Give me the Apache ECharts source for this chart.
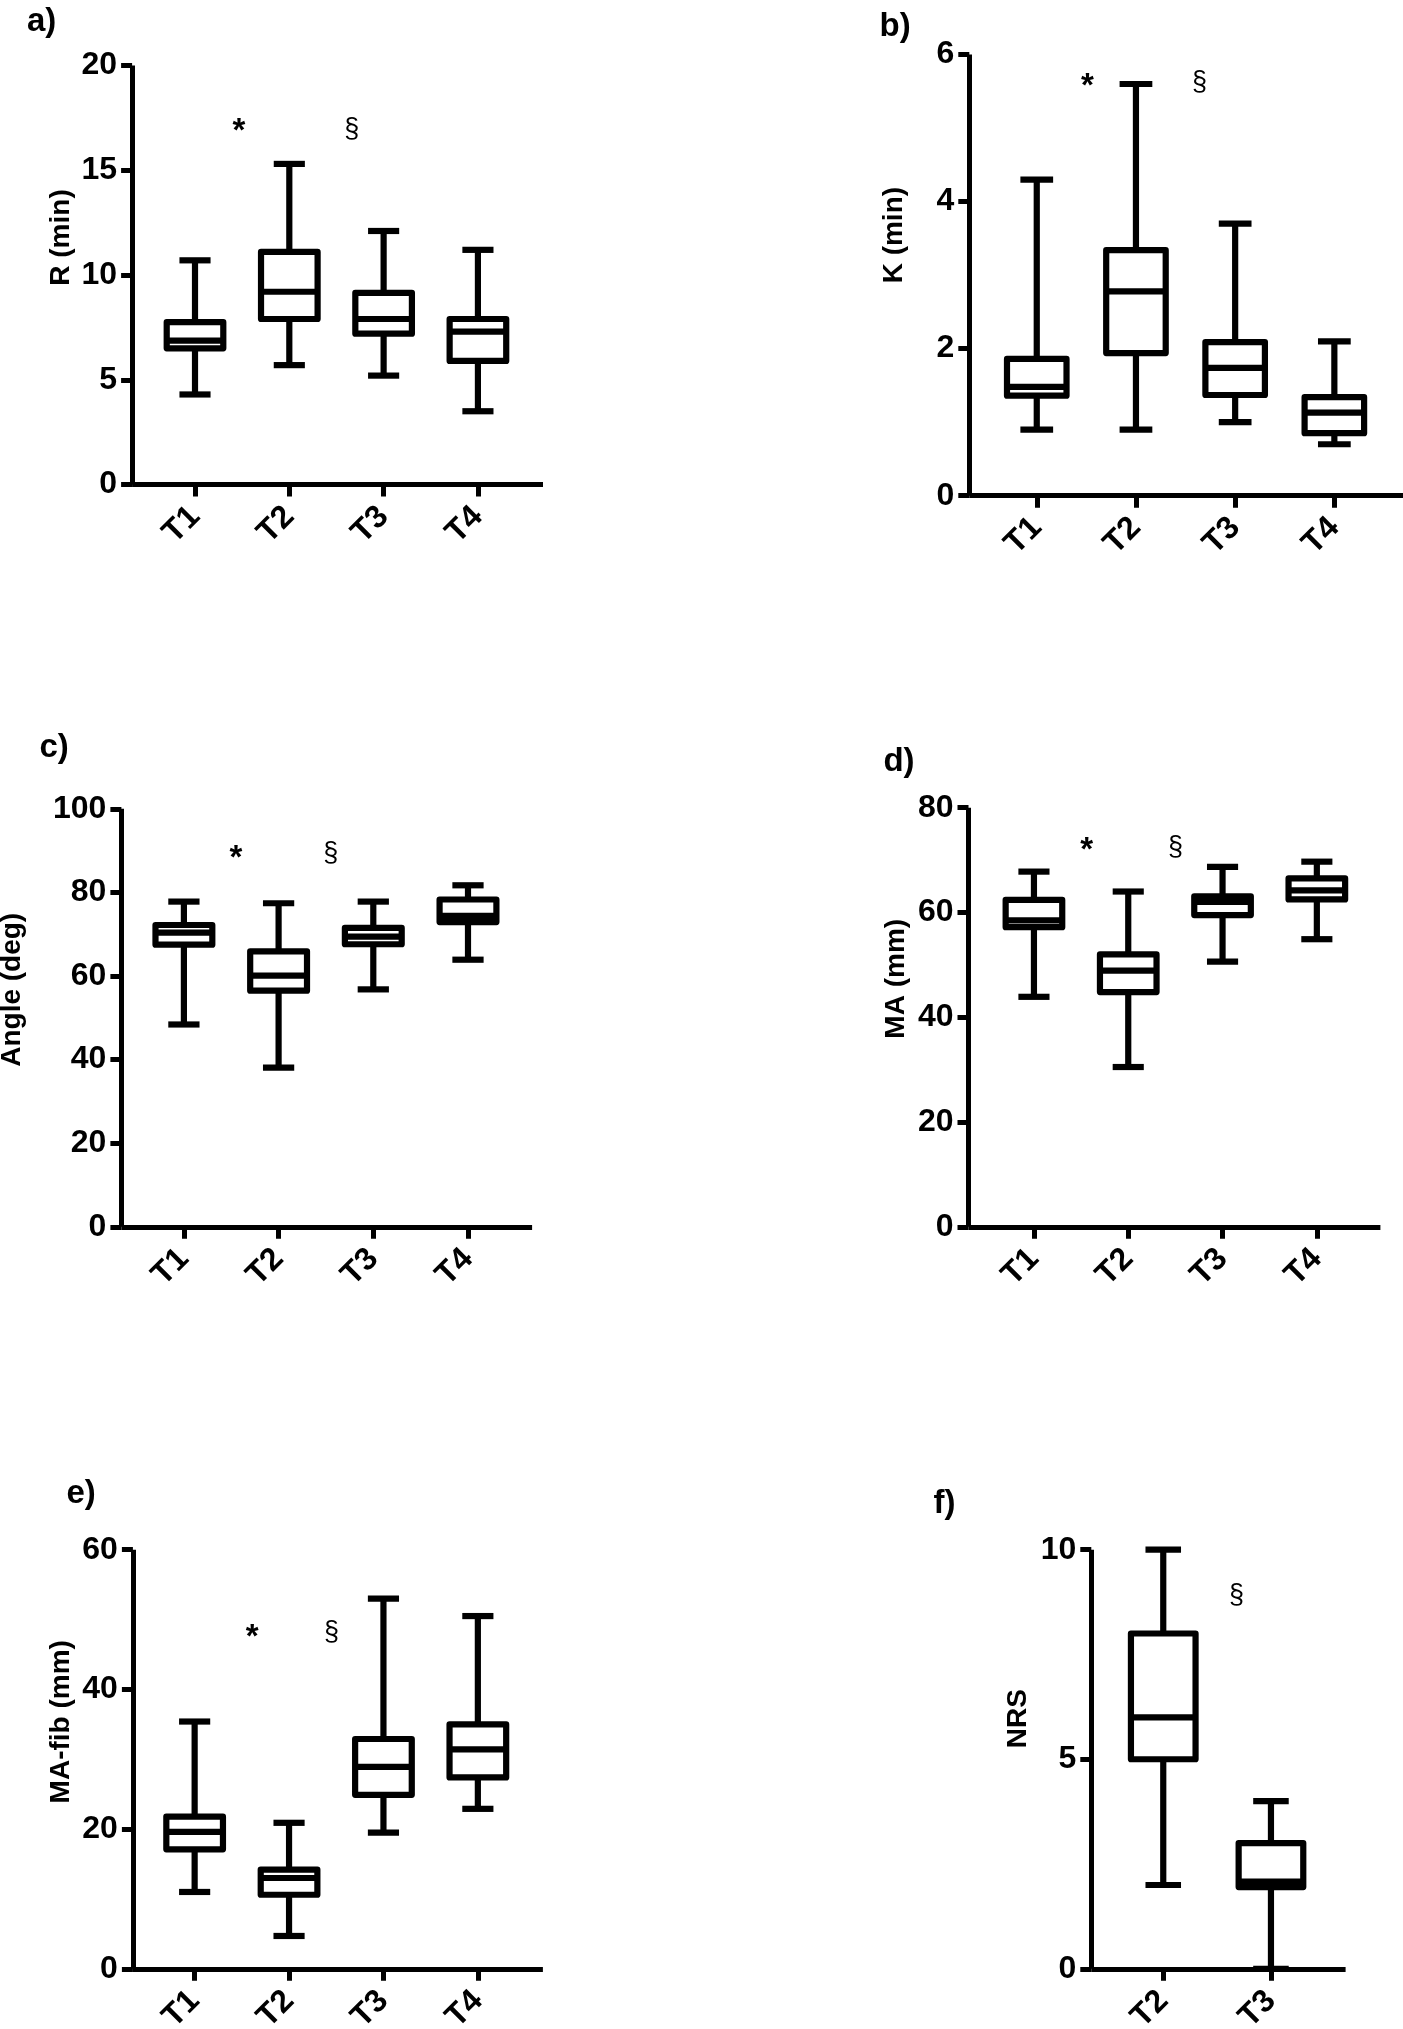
<!DOCTYPE html>
<html>
<head>
<meta charset="utf-8">
<script src="https://cdn.jsdelivr.net/npm/echarts@6/dist/echarts.min.js"></script>
<style>
html,body{margin:0;padding:0;background:#fff;}
#chart{width:1403px;height:2029px;}
</style>
</head>
<body>
<div id="chart"></div>
<script>
// ---------------- data ----------------
const timepoints = ['T1', 'T2', 'T3', 'T4'];
const nrsTimepoints = ['T2', 'T3'];

// box statistics per time point: [min, Q1, median, Q3, max]
const rMin = [[4.3, 6.5, 6.87, 7.75, 10.7], [5.7, 7.9, 9.2, 11.1, 15.3], [5.2, 7.2, 7.9, 9.15, 12.1], [3.5, 5.9, 7.3, 7.9, 11.2]];
const kMin = [[0.9, 1.36, 1.48, 1.86, 4.3], [0.9, 1.94, 2.78, 3.34, 5.6], [1.0, 1.37, 1.74, 2.09, 3.7], [0.7, 0.85, 1.13, 1.34, 2.1]];
const angleDeg = [[48.4, 67.5, 70.4, 72.2, 77.8], [38.1, 56.5, 60.1, 65.9, 77.4], [56.8, 67.6, 69.4, 71.5, 77.8], [63.9, 72.9, 74.4, 78.3, 81.7]];
const maMm = [[43.9, 57.2, 58.5, 62.4, 67.8], [30.5, 44.8, 48.9, 52.0, 64.0], [50.6, 59.5, 62.0, 63.1, 68.7], [54.9, 62.5, 64.2, 66.5, 69.7]];
const maFibMm = [[11.0, 17.1, 19.6, 21.8, 35.4], [4.7, 10.6, 13.0, 14.2, 20.9], [19.5, 24.9, 28.9, 32.9, 53.0], [22.9, 27.4, 31.4, 35.0, 50.5]];
const nrsScore = [[2, 5, 6, 8, 10], [0, 1.95, 2.08, 3, 4]];

// y axis ranges (tick labels)
const yMaxes = [20, 6, 100, 80, 60, 10];
const ySteps = [5, 2, 20, 20, 20, 5];

// significance marks: [symbol, x (time-point position), y (value)]
const sigR = [['*', 1.467, 17.16], ['§', 2.663, 16.95]];
const sigK = [['*', 1.51, 5.65], ['§', 2.64, 5.62]];
const sigAngle = [['*', 1.55, 89.8], ['§', 2.55, 89.2]];
const sigMA = [['*', 1.56, 73.1], ['§', 2.50, 72.4]];
const sigMAfib = [['*', 1.61, 48.4], ['§', 2.45, 48.1]];
const sigNRS = [['§', 1.68, 8.9]];

const panelLetters = ['a)', 'b)', 'c)', 'd)', 'e)', 'f)'];
const yNames = ['R (min)', 'K (min)', 'Angle (deg)', 'MA (mm)', 'MA-fib (mm)', 'NRS'];

// ---------------- layout / style ----------------
const FONT = '"Liberation Sans", Arial, Helvetica, sans-serif';
const LW = 6.2;      // box line width
const AXW = 5;       // axis line width
const BOX_HALF = 0.3;
const CAP_HALF = 0.165;
const STAR_DY = 7;

const frames = [
  { grid: { left: 132.1, top: 65.4, width: 410.9, height: 419.2 }, xMin: 0.333, xMax: 4.69, letter: [27, 5], nameGap: 57, namePad: 75 },
  { grid: { left: 969.3, top: 54.6, width: 433.7, height: 441.1 }, xMin: 0.32, xMax: 4.692, letter: [879.5, 10], nameGap: 61, namePad: 80 },
  { grid: { left: 121.4, top: 808.8, width: 410.7, height: 418 }, xMin: 0.34, xMax: 4.677, letter: [39.5, 731], nameGap: 95.5, namePad: 56 },
  { grid: { left: 968.5, top: 807.7, width: 411.9, height: 419.1 }, xMin: 0.306, xMax: 4.674, letter: [883.4, 745.6], nameGap: 58.3, namePad: 77 },
  { grid: { left: 132.9, top: 1549.7, width: 410, height: 419.1 }, xMin: 0.346, xMax: 4.689, letter: [66.4, 1477.4], nameGap: 57.7, namePad: 75 },
  { grid: { left: 1091.3, top: 1549.7, width: 254.3, height: 419.1 }, xMin: 0.332, xMax: 2.693, letter: [933.5, 1487.6], nameGap: 59.1, namePad: 81 }
];

const panels = [
  { stats: rMin, cats: timepoints, sig: sigR },
  { stats: kMin, cats: timepoints, sig: sigK },
  { stats: angleDeg, cats: timepoints, sig: sigAngle },
  { stats: maMm, cats: timepoints, sig: sigMA },
  { stats: maFibMm, cats: timepoints, sig: sigMAfib },
  { stats: nrsScore, cats: nrsTimepoints, sig: sigNRS }
];

function renderBox(params, api) {
  const x = api.value(0);
  const c = (d) => api.coord([x, api.value(d)]);
  const pMin = c(1), pQ1 = c(2), pMed = c(3), pQ3 = c(4), pMax = c(5);
  const cx = pMin[0];
  const half = api.size([BOX_HALF, 0])[0];
  const capHalf = api.size([CAP_HALF, 0])[0];
  const ls = { stroke: '#000', lineWidth: LW, lineCap: 'butt' };
  return {
    type: 'group',
    children: [
      { type: 'line', shape: { x1: cx, y1: pMax[1], x2: cx, y2: pQ3[1] }, style: ls },
      { type: 'line', shape: { x1: cx, y1: pQ1[1], x2: cx, y2: pMin[1] }, style: ls },
      { type: 'line', shape: { x1: cx - capHalf, y1: pMax[1], x2: cx + capHalf, y2: pMax[1] }, style: ls },
      { type: 'line', shape: { x1: cx - capHalf, y1: pMin[1], x2: cx + capHalf, y2: pMin[1] }, style: ls },
      { type: 'rect', shape: { x: cx - half, y: pQ3[1], width: 2 * half, height: pQ1[1] - pQ3[1] },
        style: { fill: '#fff', stroke: '#000', lineWidth: LW, lineJoin: 'round' } },
      { type: 'line', shape: { x1: cx - half, y1: pMed[1], x2: cx + half, y2: pMed[1] }, style: ls }
    ]
  };
}

function makeSigRender(sig) {
  return function (params, api) {
    const p = api.coord([api.value(0), api.value(1)]);
    const t = sig[params.dataIndex][0];
    const star = t === '*';
    return {
      type: 'text',
      x: p[0],
      y: p[1] + (star ? STAR_DY : 0),
      style: {
        text: t, fill: '#000',
        fontFamily: FONT,
        fontSize: star ? 33 : 27,
        fontWeight: star ? 'bold' : 'normal',
        align: 'center', verticalAlign: 'middle'
      }
    };
  };
}

const option = {
  backgroundColor: '#fff',
  animation: false,
  title: [], grid: [], xAxis: [], yAxis: [], series: []
};

panels.forEach((p, i) => {
  const f = frames[i];
  option.grid.push(Object.assign({ outerBoundsMode: 'none', containLabel: false }, f.grid));
  option.title.push({
    text: panelLetters[i], left: f.letter[0], top: f.letter[1], padding: 0,
    textStyle: { fontFamily: FONT, fontSize: 33, fontWeight: 'bold', color: '#000' }
  });
  const pos = p.cats.map((c, k) => k + 1);
  option.xAxis.push({
    type: 'value', gridIndex: i, min: f.xMin, max: f.xMax,
    axisLine: { show: true, onZero: false, lineStyle: { color: '#000', width: AXW, cap: 'butt' } },
    axisTick: { show: true, customValues: pos, length: 12, lineStyle: { color: '#000', width: AXW } },
    axisLabel: {
      show: true, customValues: pos, rotate: 45, margin: 27,
      formatter: (v) => p.cats[Math.round(v) - 1] || '',
      fontFamily: FONT, fontSize: 32, fontWeight: 'bold', color: '#000'
    },
    splitLine: { show: false }
  });
  option.yAxis.push({
    type: 'value', gridIndex: i, min: 0, max: yMaxes[i], interval: ySteps[i],
    name: yNames[i], nameLocation: 'middle', nameGap: f.nameGap, nameRotate: 90,
    nameTextStyle: { fontFamily: FONT, fontSize: 28, fontWeight: 'bold', color: '#000', padding: [0, 0, 0, f.namePad] },
    axisLine: { show: true, onZero: false, lineStyle: { color: '#000', width: AXW, cap: 'butt' } },
    axisTick: { show: true, length: 11, lineStyle: { color: '#000', width: AXW } },
    axisLabel: { margin: 15, fontFamily: FONT, fontSize: 32, fontWeight: 'bold', color: '#000' },
    splitLine: { show: false }
  });
  option.series.push({
    type: 'custom', xAxisIndex: i, yAxisIndex: i, silent: true, clip: false,
    renderItem: renderBox,
    encode: { x: 0, y: [1, 2, 3, 4, 5] },
    data: p.stats.map((s, k) => [k + 1].concat(s))
  });
  option.series.push({
    type: 'custom', xAxisIndex: i, yAxisIndex: i, silent: true, clip: false,
    renderItem: makeSigRender(p.sig),
    encode: { x: 0, y: 1 },
    data: p.sig.map((s) => [s[1], s[2]])
  });
});

const chart = echarts.init(document.getElementById('chart'), null, { renderer: 'canvas', width: 1403, height: 2029 });
chart.setOption(option);
</script>
</body>
</html>
